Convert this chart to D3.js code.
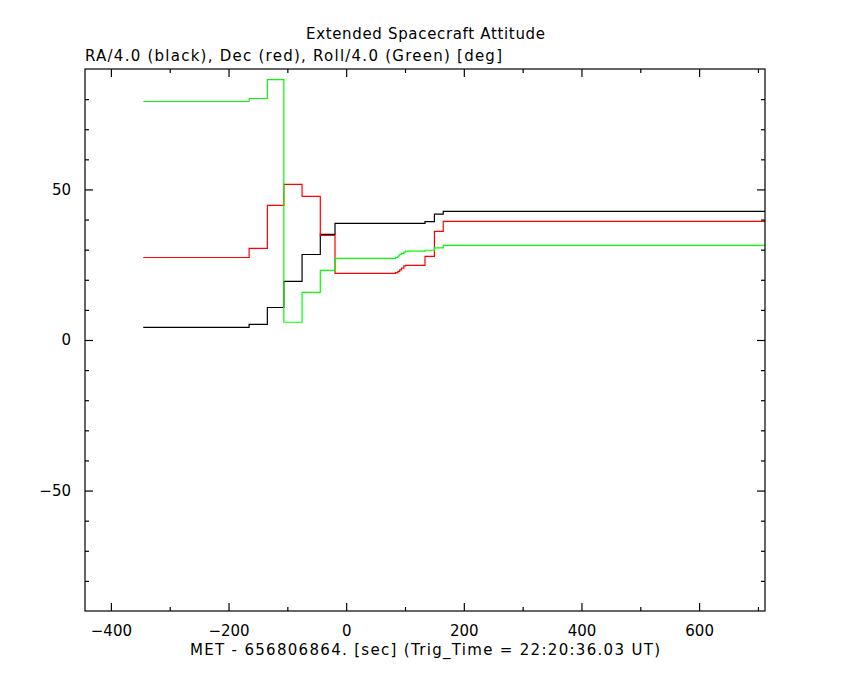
<!DOCTYPE html>
<html><head><meta charset="utf-8">
<script src="https://cdn.jsdelivr.net/npm/d3@7"></script>
<style>body{margin:0;background:#fff}svg{display:block}text{font-family:"DejaVu Sans",sans-serif;fill:#000}</style>
</head><body><svg id="c" width="850" height="680"></svg>
<script>
// step start times (sec since trigger)
const times = [-345, -165, -134, -106, -75, -44, -19, 84, 88, 91, 94, 98, 101, 134, 150, 165];
const raValues = [4.2, 5.2, 10.8, 19.5, 28.4, 35.1, 38.7, 38.7, 38.7, 38.7, 38.7, 38.7, 38.7, 39.3, 41.8, 42.7];
const decValues = [27.4, 30.4, 44.7, 51.7, 47.7, 34.7, 22.1, 22.4, 22.8, 23.3, 23.9, 24.6, 24.8, 27.8, 36.1, 39.4];
const rollValues = [79.2, 80.2, 86.5, 5.9, 15.8, 23.1, 27.1, 27.4, 27.9, 28.4, 28.8, 29.2, 29.5, 29.8, 30.6, 31.4];
const endTime = 712;
const xDomain = [-444, 712];
const yDomain = [-90, 90];
const xMajor = [-400, -200, 0, 200, 400, 600];
const xMinor = [-300, -100, 100, 300, 500, 700];
const yMajor = [-50, 0, 50];
const yMinor = [-80, -70, -60, -40, -30, -20, -10, 10, 20, 30, 40, 60, 70, 80];
const title = "Extended Spacecraft Attitude";
const subtitle = "RA/4.0 (black), Dec (red), Roll/4.0 (Green) [deg]";
const xLabel = "MET - 656806864. [sec] (Trig_Time = 22:20:36.03 UT)";

const L = 85, R = 765, T = 69, B = 611;
const svg = d3.select("#c");
const x = d3.scaleLinear().domain(xDomain).range([L, R]);
const y = d3.scaleLinear().domain(yDomain).range([B, T]);

svg.append("clipPath").attr("id","cp").append("rect")
  .attr("x", L).attr("y", T).attr("width", R - L).attr("height", B - T);

const series = [
  {v: raValues, c: "#000000"},
  {v: decValues, c: "#ff0000"},
  {v: rollValues, c: "#00ff00"}
];
const line = d3.line().x(d => x(d[0])).y(d => y(d[1])).curve(d3.curveStepAfter);
series.forEach(s => {
  const pts = times.map((t, i) => [t, s.v[i]]);
  pts.push([endTime, s.v[s.v.length - 1]]);
  svg.append("path").attr("clip-path","url(#cp)").attr("d", line(pts))
    .attr("fill","none").attr("stroke", s.c).attr("stroke-width", 1.2);
});

svg.append("rect").attr("x", L).attr("y", T).attr("width", R - L).attr("height", B - T)
  .attr("fill","none").attr("stroke","#000").attr("stroke-width",1.2);

const fmt = d => d < 0 ? "\u2212" + Math.abs(d) : String(d);
function styleAxis(g, showText){
  g.select(".domain").remove();
  g.selectAll(".tick line").attr("stroke","#000").attr("stroke-width",1.2);
  g.selectAll(".tick text").style("font-size","15px").style("font-family","DejaVu Sans").attr("fill","#000");
  if(!showText) g.selectAll(".tick text").remove();
}
svg.append("g").attr("transform",`translate(0,${B})`)
  .call(d3.axisBottom(x).tickValues(xMajor).tickSize(-8).tickPadding(14).tickFormat(fmt)).call(g=>styleAxis(g,true));
svg.append("g").attr("transform",`translate(0,${B})`)
  .call(d3.axisBottom(x).tickValues(xMinor).tickSize(-4).tickFormat("")).call(g=>styleAxis(g,false));
svg.append("g").attr("transform",`translate(0,${T})`)
  .call(d3.axisTop(x).tickValues(xMajor).tickSize(-8).tickFormat("")).call(g=>styleAxis(g,false));
svg.append("g").attr("transform",`translate(0,${T})`)
  .call(d3.axisTop(x).tickValues(xMinor).tickSize(-4).tickFormat("")).call(g=>styleAxis(g,false));
svg.append("g").attr("transform",`translate(${L},0)`)
  .call(d3.axisLeft(y).tickValues(yMajor).tickSize(-8).tickPadding(14).tickFormat(fmt)).call(g=>styleAxis(g,true));
svg.append("g").attr("transform",`translate(${L},0)`)
  .call(d3.axisLeft(y).tickValues(yMinor).tickSize(-4).tickFormat("")).call(g=>styleAxis(g,false));
svg.append("g").attr("transform",`translate(${R},0)`)
  .call(d3.axisRight(y).tickValues(yMajor).tickSize(-8).tickFormat("")).call(g=>styleAxis(g,false));
svg.append("g").attr("transform",`translate(${R},0)`)
  .call(d3.axisRight(y).tickValues(yMinor).tickSize(-4).tickFormat("")).call(g=>styleAxis(g,false));

svg.append("text").attr("x", 306).attr("y", 39).attr("textLength", 239).attr("lengthAdjust","spacing")
  .style("font-size","15px").text(title);
svg.append("text").attr("x", L).attr("y", 61).attr("textLength", 417).attr("lengthAdjust","spacing")
  .style("font-size","15px").text(subtitle);
svg.append("text").attr("x", 190).attr("y", 655).attr("textLength", 470).attr("lengthAdjust","spacing")
  .style("font-size","15px").text(xLabel);
</script></body></html>
